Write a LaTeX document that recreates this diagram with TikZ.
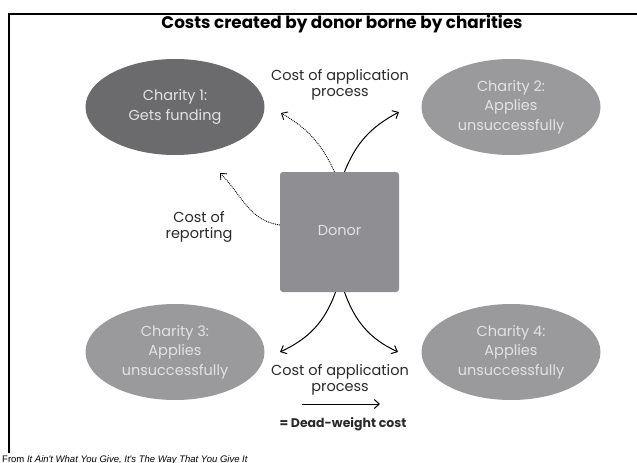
\documentclass[tikz,border=0pt]{standalone}
\usepackage{fontspec}
\setmainfont{Poppins}
\newfontfamily\notefont{Liberation Sans}
\usetikzlibrary{shapes.geometric,arrows.meta}
\definecolor{darkcharity}{HTML}{6B6B6D}
\definecolor{lightcharity}{HTML}{9A9A9C}
\definecolor{donorgray}{HTML}{8F8F93}
\definecolor{inktext}{HTML}{E2E2E2}
\definecolor{labeltext}{HTML}{2A2A2A}
\tikzset{
  charity/.style={ellipse, draw=none, fill=lightcharity, minimum width=179pt,
    minimum height=96pt, text=inktext, align=center, inner sep=0pt,
    font=\fontsize{14.5}{19.5}\selectfont},
  donorbox/.style={rectangle, rounded corners=3pt, fill=donorgray, text=inktext,
    minimum width=119pt, minimum height=120pt, inner sep=0pt,
    font=\fontsize{14.5}{19}\selectfont},
  costlabel/.style={align=center, text=labeltext, inner sep=0pt,
    font=\fontsize{14.5}{16.5}\selectfont},
  deadweight/.style={draw=black, line width=1pt,
    -{Straight Barb[length=5pt,width=9pt,line width=1pt]}},
  sharedcost/.style={draw=black, line width=0.9pt, densely dotted,
    -{Straight Barb[length=5pt,width=9pt,line width=0.9pt,sep=0pt]}}
}
\begin{document}
\begin{tikzpicture}[x=1pt,y=1pt]
  \useasboundingbox (0,0) rectangle (637,-463);
  \fill[white] (0,0) rectangle (637,-463);

  % frame lines
  \draw[line width=2pt] (9,-453) -- (9,-14) -- (637,-14);

  % title
  \node[anchor=base, inner sep=0pt, font=\fontsize{16.8}{18}\bfseries\selectfont] (title) at (342,-28) {Costs created by donor borne by charities};

  % charities
  \node[charity, fill=darkcharity] (c1) at (175,-107) {Charity 1:\\Gets funding};
  \node[charity] (c2) at (511,-107) {Charity 2:\\Applies\\unsuccessfully};
  \node[charity] (c3) at (175,-352) {Charity 3:\\Applies\\unsuccessfully};
  \node[charity] (c4) at (511,-352) {Charity 4:\\Applies\\unsuccessfully};

  % donor
  \node[donorbox] (donor) at (339.5,-232) {\raisebox{4pt}{Donor}};

  % cost labels
  \node[costlabel] (apptop) at (340,-85) {Cost of application\\process};
  \node[costlabel] (report) at (199,-227) {Cost of\\reporting};
  \node[costlabel] (appbot) at (340,-380) {Cost of application\\process};

  % arrow end points
  \coordinate (e1) at (281,-113);
  \coordinate (e2) at (399,-112);
  \coordinate (er) at (220,-173);
  \coordinate (e3) at (280,-352);
  \coordinate (e4) at (398,-352);

  % arrows
  \draw[sharedcost] ([xshift=-5pt]donor.north) to[out=115,in=-30] (e1);
  \draw[deadweight] ([xshift=5pt]donor.north) to[out=68,in=-152] (e2);
  \draw[sharedcost] ([yshift=7pt]donor.west) to[out=172,in=-45] (er);
  \draw[deadweight] ([xshift=-4pt]donor.south) to[out=-110,in=25] (e3);
  \draw[deadweight] ([xshift=5pt]donor.south) to[out=-70,in=155] (e4);

  % legend
  \coordinate (ls) at (302,-404);
  \coordinate (le) at (380,-404);
  \draw[deadweight] (ls) -- (le);
  \node[anchor=base, inner sep=0pt, font=\fontsize{12.5}{15}\bfseries\selectfont, text=labeltext] (legend) at (343,-427) {= Dead-weight cost};

  % source note
  \node[anchor=base west, inner sep=0pt, font=\notefont\fontsize{9.5}{10}\selectfont] (source) at (2,-462)
    {From \textit{It Ain't What You Give, It's The Way That You Give It}};
\end{tikzpicture}
\end{document}
